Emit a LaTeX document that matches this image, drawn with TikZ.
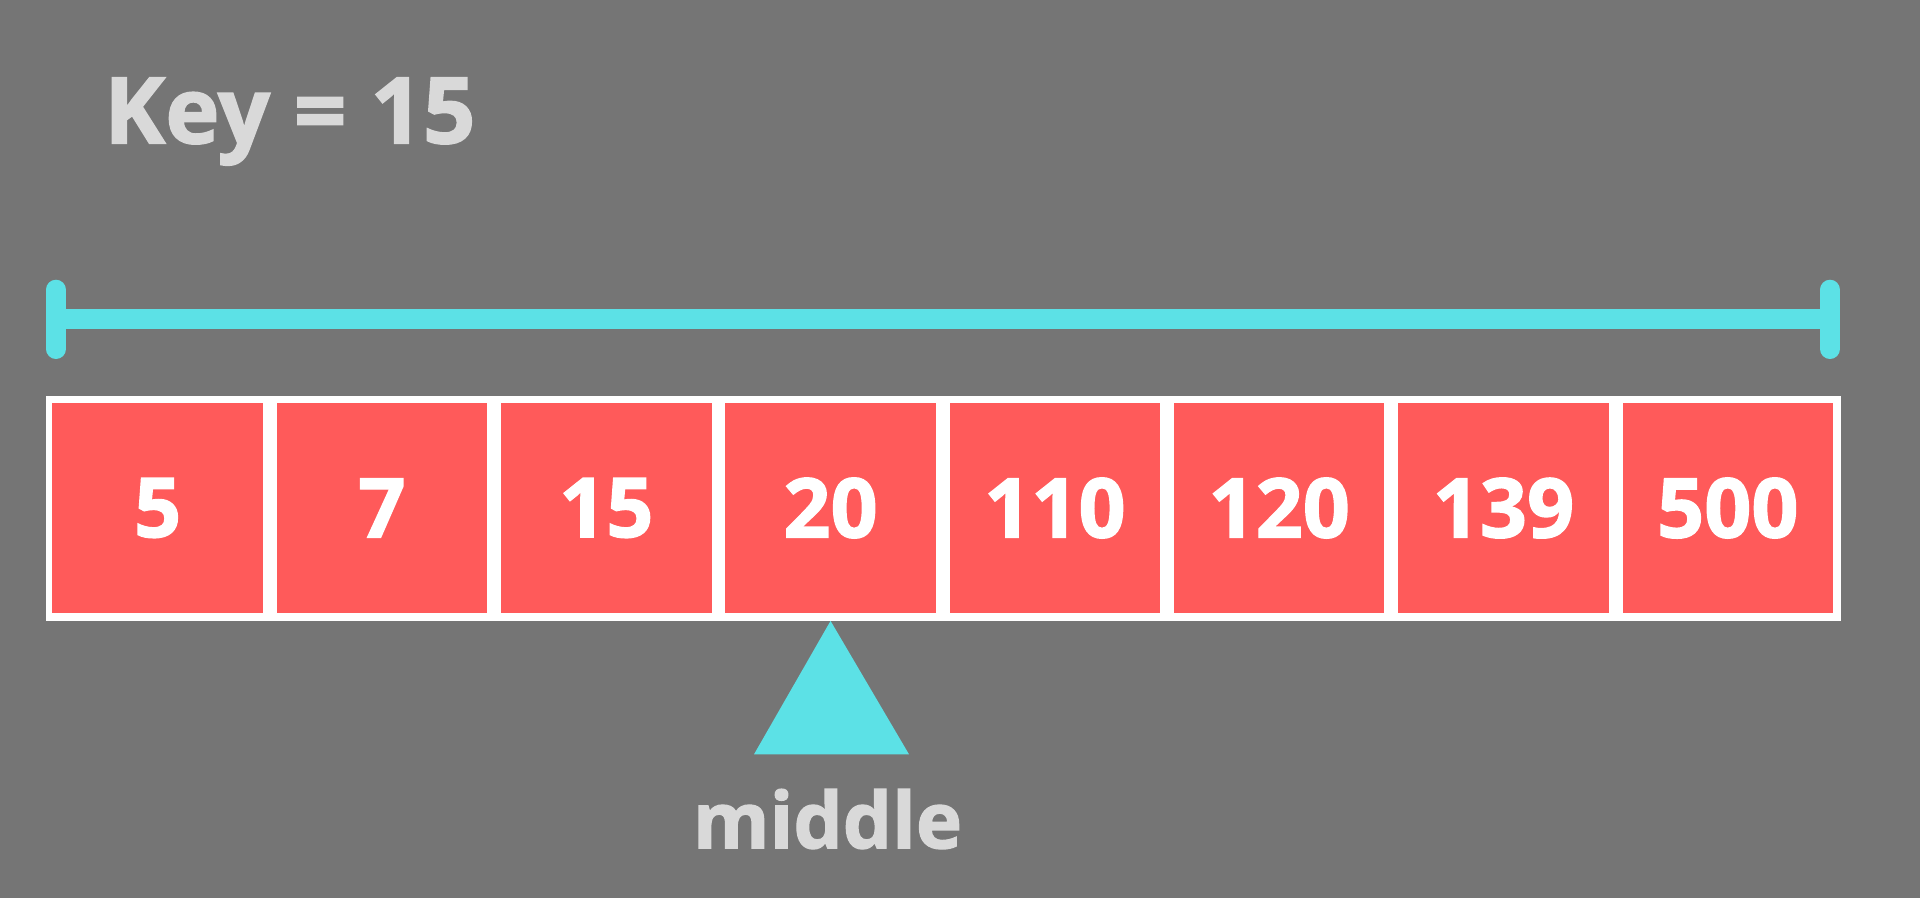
\documentclass[tikz,border=0pt]{standalone}
\usepackage{fontspec}
\setmainfont{Open Sans}[BoldFeatures={FakeBold=1.6}]
\definecolor{bg}{HTML}{757575}
\definecolor{cellred}{HTML}{FF5A5A}
\definecolor{cyanbar}{HTML}{5CE1E6}
\definecolor{lightgray}{HTML}{D9D9D9}
\begin{document}
\begin{tikzpicture}[x=1pt,y=-1pt,
  cell/.style={fill=cellred,minimum width=210.5pt,minimum height=210.6pt,inner sep=0pt,
    text=white,font=\fontsize{82.6}{90}\selectfont\bfseries},
  barline/.style={cyanbar,line width=20pt},
  label/.style={text=lightgray,inner sep=0pt}]
\useasboundingbox (0,0) rectangle (1920,898);
\fill[bg] (0,0) rectangle (1920,898);
% title
\node[label,anchor=base west,font=\fontsize{92}{100}\selectfont\bfseries] (key) at (104,143.3) {Key = 15};
% range bar
\coordinate (bl) at (55.9,319);
\coordinate (br) at (1830,319);
\draw[barline] (bl) -- (br);
\draw[barline,line cap=round] ([yshift=-30pt]bl) -- ([yshift=29.3pt]bl);
\draw[barline,line cap=round] ([yshift=-30pt]br) -- ([yshift=29.3pt]br);
% array
\fill[white] (45.9,395.7) rectangle (1840.7,620.7);
\foreach \v [count=\i from 0] in {5,7,15,20,110,120,139,500}{
  \node[cell] (c\i) at (157.65+224.3*\i,508) {\v};
}
% middle pointer
\coordinate (apex) at ([yshift=-7.4pt]c3.south);
\fill[cyanbar] (apex) -- (754,754.3) -- (909,754.3) -- cycle;
\node[label,anchor=base,font=\fontsize{78}{86}\selectfont\bfseries] (mid) at (827.5,848.3) {middle};
\end{tikzpicture}
\end{document}
